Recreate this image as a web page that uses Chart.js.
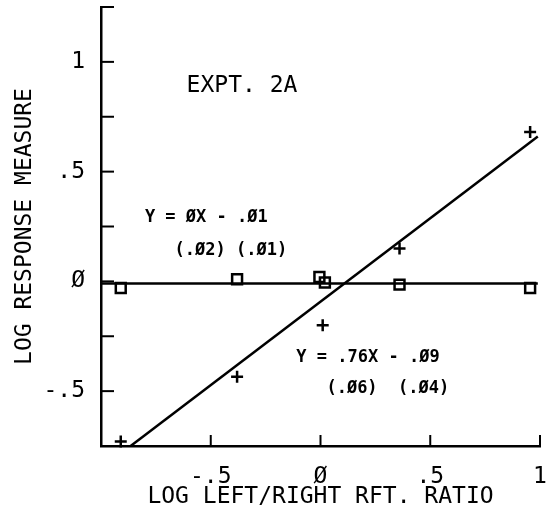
<!DOCTYPE html>
<html>
<head>
<meta charset="utf-8">
<script src="https://cdn.jsdelivr.net/npm/chart.js@4"></script>
<style>
  html, body { margin: 0; padding: 0; background: #fff; overflow: hidden; }
  #wrap { position: relative; width: 550px; height: 515px; }
  #chart { display: block; }
</style>
</head>
<body>
<div id="wrap"><canvas id="chart"></canvas></div>
<script>
// data
var squareX = [-0.91, -0.38, -0.005, 0.02, 0.36, 0.955];
var squareY = [-0.03, 0.01, 0.02, -0.005, -0.015, -0.03];
var plusX = [-0.91, -0.38, 0.01, 0.36, 0.955];
var plusY = [-0.73, -0.435, -0.2, 0.15, 0.68];
var fit1X = [-1, 0.99];
var fit1Y = [-0.01, -0.01];
var fit2X = [-0.865, 0.99];
var fit2Y = [-0.75, 0.66];

var xTickValues = [-0.5, 0, 0.5, 1];
var xTickLabels = ['-.5', 'Ø', '.5', '1'];
var yTickValues = [-0.5, 0, 0.5, 1];
var yTickLabels = ['-.5', 'Ø', '.5', '1'];

function pts(xs, ys) {
    return xs.map(function (x, i) { return { x: x, y: ys[i] }; });
}

function labelFor(values, labels) {
    return function (v) {
        for (var i = 0; i < values.length; i++) {
            if (Math.abs(values[i] - v) < 1e-9) return labels[i];
        }
        return '';
    };
}

var notes = [
    { text: 'EXPT. 2A', x: -0.61, y: 0.89, font: '23px "DejaVu Sans Mono"' },
    { text: 'Y = ØX - .Ø1', x: -0.80, y: 0.29, font: 'bold 17px "DejaVu Sans Mono"' },
    { text: '(.Ø2) (.Ø1)', x: -0.665, y: 0.14, font: 'bold 17px "DejaVu Sans Mono"' },
    { text: 'Y = .76X - .Ø9', x: -0.11, y: -0.345, font: 'bold 17px "DejaVu Sans Mono"' },
    { text: '(.Ø6)  (.Ø4)', x: 0.027, y: -0.49, font: 'bold 17px "DejaVu Sans Mono"' }
];

// inward tick marks + text notes
var plotMarks = {
    id: 'plotMarks',
    afterDraw: function (chart) {
        var ctx = chart.ctx, xs = chart.scales.x, ys = chart.scales.y;
        var a = chart.chartArea;
        ctx.save();
        ctx.strokeStyle = '#000';
        ctx.lineWidth = 2;
        ys.ticks.forEach(function (t) {
            var py = ys.getPixelForValue(t.value);
            ctx.beginPath();
            ctx.moveTo(a.left, py);
            ctx.lineTo(a.left + 13, py);
            ctx.stroke();
        });
        xs.ticks.forEach(function (t) {
            var px = xs.getPixelForValue(t.value);
            ctx.beginPath();
            ctx.moveTo(px, a.bottom);
            ctx.lineTo(px, a.bottom - 11);
            ctx.stroke();
        });
        ctx.fillStyle = '#000';
        ctx.textBaseline = 'middle';
        ctx.textAlign = 'left';
        notes.forEach(function (n) {
            ctx.font = n.font;
            ctx.fillText(n.text, xs.getPixelForValue(n.x), ys.getPixelForValue(n.y));
        });
        ctx.restore();
    }
};

var tickFont = { family: 'DejaVu Sans Mono', size: 23 };

var ctx = document.getElementById('chart').getContext('2d');
var myChart = new Chart(ctx, {
    type: 'scatter',
    data: {
        datasets: [{
            label: 'fit 1',
            data: pts(fit1X, fit1Y),
            showLine: true,
            borderColor: '#000',
            borderWidth: 2.5,
            pointRadius: 0,
            clip: false
        }, {
            label: 'fit 2',
            data: pts(fit2X, fit2Y),
            showLine: true,
            borderColor: '#000',
            borderWidth: 2.5,
            pointRadius: 0,
            clip: false
        }, {
            label: 'squares',
            data: pts(squareX, squareY),
            pointStyle: 'rect',
            pointRadius: 7,
            borderColor: '#000',
            backgroundColor: 'rgba(0,0,0,0)',
            borderWidth: 2.5,
            clip: false
        }, {
            label: 'plus',
            data: pts(plusX, plusY),
            pointStyle: 'cross',
            pointRadius: 6,
            borderColor: '#000',
            borderWidth: 2.5,
            clip: false
        }]
    },
    options: {
        responsive: true,
        maintainAspectRatio: false,
        animation: false,
        events: [],
        layout: {
            autoPadding: false,
            padding: { left: 0, top: 7, right: 10, bottom: 0 }
        },
        plugins: {
            legend: { display: false },
            tooltip: { enabled: false }
        },
        scales: {
            x: {
                type: 'linear',
                min: -1,
                max: 1,
                afterFit: function (s) {
                    s.height = 69;
                    s.paddingLeft = 0;
                    s.paddingRight = 0;
                },
                grid: { display: false, drawTicks: false },
                border: { display: true, color: '#000', width: 2.5 },
                ticks: {
                    stepSize: 0.5,
                    color: '#000',
                    font: tickFont,
                    padding: 17,
                    maxRotation: 0,
                    autoSkip: false,
                    callback: labelFor(xTickValues, xTickLabels)
                },
                title: {
                    display: true,
                    text: 'LOG LEFT/RIGHT RFT. RATIO',
                    color: '#000',
                    font: tickFont,
                    padding: { top: 0, bottom: 4 }
                }
            },
            y: {
                type: 'linear',
                min: -0.75,
                max: 1.25,
                afterFit: function (s) {
                    s.width = 101;
                    s.paddingTop = 0;
                    s.paddingBottom = 0;
                },
                grid: { display: false, drawTicks: false },
                border: { display: true, color: '#000', width: 2.5 },
                ticks: {
                    stepSize: 0.25,
                    color: '#000',
                    font: tickFont,
                    padding: 16,
                    autoSkip: false,
                    callback: labelFor(yTickValues, yTickLabels)
                },
                title: {
                    display: true,
                    text: 'LOG RESPONSE MEASURE',
                    color: '#000',
                    font: tickFont,
                    padding: { top: 11, bottom: 0 }
                }
            }
        }
    },
    plugins: [plotMarks]
});
</script>
</body>
</html>
